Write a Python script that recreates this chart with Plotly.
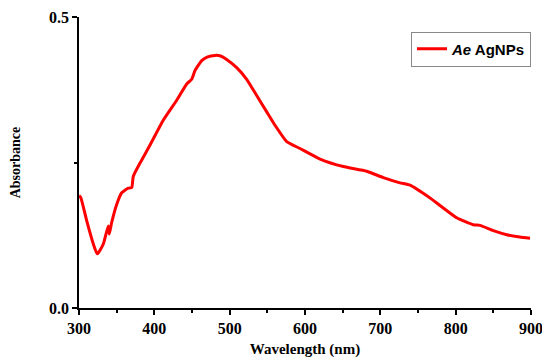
import plotly.graph_objects as go

wavelength = [300, 302.3, 310.2, 319, 324.3, 332.3, 338.9, 340.2, 343.4, 350, 356.7, 365.4, 370, 372,
              381, 394.3, 412, 429.7, 443, 449.6, 454, 462.9, 470, 480.5, 488, 496, 509.3, 522.6, 535.9,
              549.2, 560.2, 575.7, 593.4, 620, 650.9, 681.9, 704, 726.1, 739.4, 766, 801.4, 823.4,
              832.3, 850, 867.8, 885, 898.7]
absorbance = [0.193, 0.190, 0.150, 0.110, 0.093, 0.110, 0.141, 0.127, 0.147, 0.178, 0.198, 0.206, 0.207, 0.226,
              0.249, 0.280, 0.323, 0.357, 0.385, 0.393, 0.408, 0.425, 0.431, 0.434, 0.433, 0.427, 0.413, 0.393, 0.365,
              0.337, 0.314, 0.286, 0.274, 0.256, 0.243, 0.235, 0.224, 0.215, 0.211, 0.189, 0.155, 0.143,
              0.142, 0.133, 0.126, 0.122, 0.120]
x_ticks = [300, 400, 500, 600, 700, 800, 900]
y_ticks = [0.0, 0.5]
series_name = "<b><i>Ae</i> AgNPs</b>"

fig = go.Figure()
fig.add_trace(go.Scatter(x=wavelength, y=absorbance, mode="lines", name=series_name,
                         line=dict(color="#ff0000", width=3, shape="spline", smoothing=0.5)))

tick_font = dict(family="Liberation Serif", size=16, color="black")
fig.update_layout(
    width=550, height=363,
    margin=dict(l=71, r=27, t=9, b=63, autoexpand=False),
    paper_bgcolor="white", plot_bgcolor="white",
    showlegend=True,
    legend=dict(x=1, xanchor="right", y=0.95, yanchor="top",
                bordercolor="#888888", borderwidth=1, bgcolor="white",
                font=dict(family="Liberation Sans", size=15, color="black"),
                itemwidth=30, tracegroupgap=0),
    xaxis=dict(range=[300, 900], tickvals=x_ticks, ticktext=[f"<b>{v}</b>" for v in x_ticks],
               automargin=False, ticklabeloverflow="allow",
               showgrid=False, zeroline=False, showline=True, linecolor="black", linewidth=1.5,
               ticks="outside", ticklen=5, tickwidth=1.5, tickcolor="black",
               minor=dict(tickvals=[350, 450, 550, 650, 750, 850], ticks="outside", ticklen=3,
                          tickwidth=1.5, tickcolor="black"),
               tickfont=tick_font,
               title=dict(text="<b>Wavelength (nm)</b>",
                          font=dict(family="Liberation Serif", size=15, color="black"), standoff=8)),
    yaxis=dict(range=[0, 0.5], tickvals=y_ticks, ticktext=[f"<b>{v:.1f}</b>" for v in y_ticks],
               automargin=False, ticklabeloverflow="allow",
               showgrid=False, zeroline=False, showline=True, linecolor="black", linewidth=1.5,
               ticks="outside", ticklen=5, tickwidth=1.5, tickcolor="black",
               minor=dict(tickvals=[0.25], ticks="outside", ticklen=3, tickwidth=1.5, tickcolor="black"),
               tickfont=tick_font,
               title=dict(text="<b>Absorbance</b>",
                          font=dict(family="Liberation Serif", size=14, color="black"), standoff=27)),
)

fig.write_html("out.html")
